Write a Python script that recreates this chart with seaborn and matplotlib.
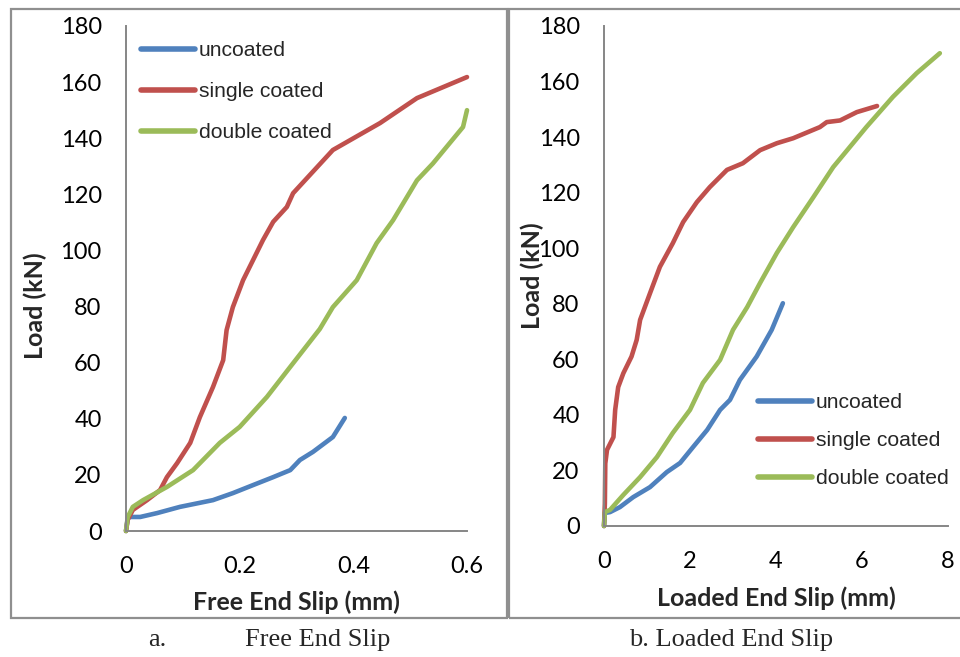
import matplotlib
matplotlib.use("Agg")
import matplotlib.pyplot as plt
import seaborn as sns
import pandas as pd
from matplotlib.lines import Line2D
from matplotlib.patches import Rectangle

# ---------------- data ----------------
series_names = ["uncoated", "single coated", "double coated"]
series_colors = ["#4F81BD", "#C0504D", "#9BBB59"]

free_x_uncoated = [0, 0.003, 0.007, 0.025, 0.055, 0.095, 0.153, 0.188, 0.224, 0.259, 0.289, 0.306, 0.329, 0.364, 0.385]
free_y_uncoated = [0, 4.5, 5.0, 5.0, 6.4, 8.6, 11.0, 13.5, 16.4, 19.2, 21.7, 25.3, 28.2, 33.5, 40.3]

free_x_single = [0, 0.003, 0.012, 0.037, 0.060, 0.072, 0.090, 0.113, 0.130, 0.153, 0.171, 0.177, 0.188, 0.206,
                 0.241, 0.259, 0.283, 0.294, 0.364, 0.447, 0.512, 0.6]
free_y_single = [0, 4, 7.5, 11, 14.6, 19.2, 24.2, 31.4, 40.6, 51.3, 60.9, 71.6, 79.8, 89.4,
                 103.7, 110.2, 115.5, 120.4, 135.8, 145.4, 154.3, 161.8]

free_x_double = [0, 0.003, 0.012, 0.03, 0.072, 0.118, 0.165, 0.2, 0.248, 0.289, 0.341, 0.364, 0.406, 0.441,
                 0.47, 0.512, 0.54, 0.593, 0.6]
free_y_double = [0, 5, 8.6, 11, 15.7, 21.7, 31.4, 37.1, 47.8, 58.5, 72.0, 79.8, 89.4, 102.6,
                 110.8, 125, 131, 144, 150]

loaded_x_uncoated = [0, 0.02, 0.14, 0.37, 0.68, 1.07, 1.46, 1.77, 2.07, 2.4, 2.7, 2.93, 3.16, 3.55, 3.9, 4.16]
loaded_y_uncoated = [0, 4.7, 5.0, 6.8, 10.4, 14.0, 19.4, 22.7, 28.4, 34.6, 41.8, 45.4, 52.6, 61.0, 70.6, 80.2]

loaded_x_single = [0, 0.02, 0.03, 0.07, 0.22, 0.26, 0.33, 0.45, 0.64, 0.76, 0.84, 1.07, 1.3, 1.6, 1.84, 2.16,
                   2.46, 2.86, 3.23, 3.63, 4.02, 4.4, 5.02, 5.18, 5.49, 5.88, 6.35]
loaded_y_single = [0, 8, 22.5, 27.4, 32, 41.8, 50, 55, 61, 67, 74.2, 83.8, 93.3, 101.8, 109.4, 116.6,
                   122, 128.2, 130.6, 135.3, 137.8, 139.6, 143.6, 145.4, 146, 149, 151.2]

loaded_x_double = [0, 0.02, 0.14, 0.45, 0.84, 1.23, 1.6, 2.0, 2.3, 2.7, 3.0, 3.33, 3.63, 4.02, 4.4, 4.87,
                   5.33, 6.1, 6.72, 7.27, 7.81]
loaded_y_double = [0, 5, 5.8, 11.2, 17.6, 24.8, 33.5, 41.8, 51.5, 59.8, 70.6, 78.8, 87.5, 98.3, 107.6, 118.4,
                   129.2, 143.6, 154.5, 163, 170.2]

y_ticks = [0, 20, 40, 60, 80, 100, 120, 140, 160, 180]
free_x_ticks = [0, 0.2, 0.4, 0.6]
free_x_ticklabels = ["0", "0.2", "0.4", "0.6"]
loaded_x_ticks = [0, 2, 4, 6, 8]
loaded_x_ticklabels = ["0", "2", "4", "6", "8"]

y_label = "Load (kN)"
free_x_label = "Free End Slip (mm)"
loaded_x_label = "Loaded End Slip (mm)"
caption_a_letter = "a."
caption_a_text = "Free End Slip"
caption_b = "b. Loaded End Slip"


def long_frame(xs, ys):
    rows = []
    for name, x, y in zip(series_names, xs, ys):
        for i, (xi, yi) in enumerate(zip(x, y)):
            rows.append({"series": name, "slip": xi, "load": yi, "order": i})
    return pd.DataFrame(rows)


free_df = long_frame([free_x_uncoated, free_x_single, free_x_double],
                     [free_y_uncoated, free_y_single, free_y_double])
loaded_df = long_frame([loaded_x_uncoated, loaded_x_single, loaded_x_double],
                       [loaded_y_uncoated, loaded_y_single, loaded_y_double])

# ---------------- style ----------------
sns.set_theme(style="white")
plt.rcParams["font.family"] = ["Lato", "DejaVu Sans"]

W, H = 960, 657
fig = plt.figure(figsize=(W / 100, H / 100), dpi=100)
fig.patch.set_facecolor("white")

palette = dict(zip(series_names, series_colors))
axis_grey = "#868686"
frame_grey = "#8f8f8f"


def px_rect(x0, x1, ytop, ybot):
    return [x0 / W, 1 - ybot / H, (x1 - x0) / W, (ybot - ytop) / H]


# frames (panel borders)
fig.patches.append(Rectangle((10.5 / W, 1 - 618 / H), (507 - 10.5) / W, (618 - 9) / H,
                             transform=fig.transFigure, fill=False, ec=frame_grey, lw=1.6))
fig.patches.append(Rectangle((509 / W, 1 - 618 / H), (970 - 509) / W, (618 - 9) / H,
                             transform=fig.transFigure, fill=False, ec=frame_grey, lw=1.6))

ax1 = fig.add_axes(px_rect(126, 467, 26, 531))
ax2 = fig.add_axes(px_rect(604, 948, 26, 526))

for ax, df, xt, xtl, xmax in [(ax1, free_df, free_x_ticks, free_x_ticklabels, 0.6),
                              (ax2, loaded_df, loaded_x_ticks, loaded_x_ticklabels, 8)]:
    sns.lineplot(data=df, x="slip", y="load", hue="series", units="series", estimator=None,
                 sort=False, palette=palette, hue_order=series_names, lw=3.3, ax=ax,
                 legend=False)
    for ln in ax.get_lines():
        ln.set_solid_capstyle("round")
        ln.set_solid_joinstyle("round")
        ln.set_clip_on(False)
    ax.set_xlim(0, xmax)
    ax.set_ylim(0, 180)
    ax.set_xticks(xt)
    ax.set_xticklabels(xtl)
    ax.set_yticks(y_ticks)
    ax.set_yticklabels([str(v) for v in y_ticks])
    ax.tick_params(axis="both", length=0, labelsize=17, colors="black")
    ax.tick_params(axis="y", pad=17.5)
    ax.tick_params(axis="x", pad=18)
    for s in ["top", "right"]:
        ax.spines[s].set_visible(False)
    for s in ["left", "bottom"]:
        ax.spines[s].set_color(axis_grey)
        ax.spines[s].set_linewidth(1.4)
    ax.set_facecolor("none")

ax1.set_xlabel(free_x_label, fontsize=18, fontweight="bold", va="center")
ax1.xaxis.set_label_coords((296 - 126) / 341, (531 - 602) / 505)
ax1.set_ylabel(y_label, fontsize=18, fontweight="bold", va="center")
ax1.yaxis.set_label_coords((35 - 126) / 341, (531 - 306) / 505)

ax2.set_xlabel(loaded_x_label, fontsize=18, fontweight="bold", va="center")
ax2.xaxis.set_label_coords((776 - 604) / 344, (526 - 598) / 500)
ax2.set_ylabel(y_label, fontsize=18, fontweight="bold", va="center")
ax2.yaxis.set_label_coords((532 - 604) / 344, (526 - 276) / 500)

# legends
handles = [Line2D([0], [0], color=c, lw=4.0, solid_capstyle="round") for c in series_colors]
leg_kw = dict(frameon=False, prop={"family": ["Liberation Sans", "DejaVu Sans"], "size": 15.2},
              handlelength=2.55, handletextpad=0.2, borderpad=0, borderaxespad=0,
              loc="upper left")
ax1.legend(handles, series_names, bbox_to_anchor=(141 / W, 1 - 41 / H),
           bbox_transform=fig.transFigure, labelspacing=1.04, **leg_kw)
ax2.legend(handles, series_names, bbox_to_anchor=(758 / W, 1 - 393 / H),
           bbox_transform=fig.transFigure, labelspacing=0.9, **leg_kw)

# captions
cap_font = {"family": ["Liberation Serif", "DejaVu Serif"], "size": 19}
fig.text(157 / W, 1 - 640 / H, caption_a_letter, ha="center", va="center", fontdict=cap_font)
fig.text(318 / W, 1 - 640 / H, caption_a_text, ha="center", va="center", fontdict=cap_font)
fig.text(731 / W, 1 - 640 / H, caption_b, ha="center", va="center", fontdict=cap_font)

fig.savefig("out.png", dpi=100, facecolor="white")
